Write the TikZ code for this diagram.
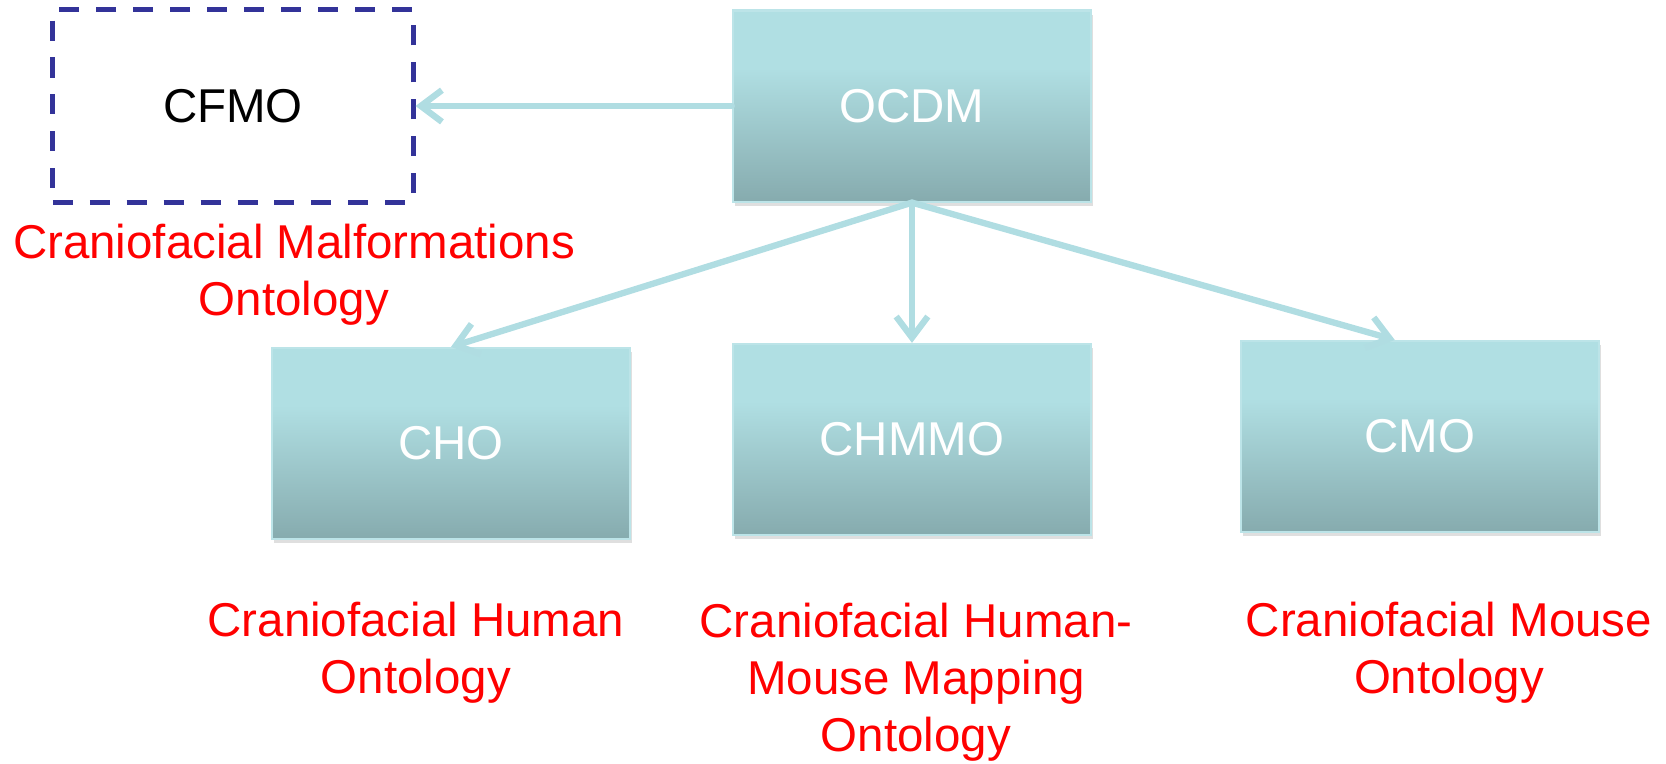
\documentclass[tikz,border=0pt]{standalone}
\usepackage{fontspec}
\setmainfont{Liberation Sans}
\usetikzlibrary{arrows.meta, positioning, calc, shadows}
\definecolor{boxtop}{RGB}{176, 223, 227}
\definecolor{boxbottom}{RGB}{134, 171, 174}
\definecolor{boxedge}{RGB}{188, 228, 232}
\definecolor{linkcolor}{RGB}{176, 221, 226}
\definecolor{dashblue}{RGB}{51, 51, 153}
\definecolor{labelred}{RGB}{255, 0, 0}
\pgfdeclareverticalshading{ontoshade}{100bp}{color(0bp)=(boxbottom); color(25bp)=(boxbottom); color(60bp)=(boxtop); color(100bp)=(boxtop)}

\begin{document}
\begin{tikzpicture}[x=0.01cm, y=-0.01cm,
  every node/.style={font=\fontsize{13.5}{16.2}\selectfont},
  ontobox/.style={rectangle, shading=ontoshade, draw=boxedge, line width=0.6pt, minimum width=3.58cm, minimum height=1.91cm, text=white, drop shadow={shadow xshift=0.5pt, shadow yshift=-1.2pt, opacity=0.25}},
  ontolabel/.style={text=labelred, align=center, inner sep=0pt},
  link/.style={draw=linkcolor, line width=1.8pt, line cap=round, -{Straight Barb[length=6pt, width=9pt]}}]
\useasboundingbox (0,0) rectangle (1666,763);

% ontology boxes
\node[ontobox] (ocdm) at (912,106) {OCDM};
\node[draw=dashblue, line width=1.4pt, dash pattern=on 5.7pt off 4.8pt, minimum width=3.6cm, minimum height=1.92cm] (cfmo) at (233,106) {CFMO};
\node[ontobox] (cho) at (451,443.5) {CHO};
\node[ontobox] (chmmo) at (912,439.5) {CHMMO};
\node[ontobox] (cmo) at (1420,436.5) {CMO};

% full names
\node[ontolabel] (cfmolabel) at (294,275) {Craniofacial Malformations\\Ontology};
\node[ontolabel] (cholabel) at (416,653) {Craniofacial Human\\Ontology};
\node[ontolabel] (chmmolabel) at (916,682) {Craniofacial Human-\\Mouse Mapping\\Ontology};
\node[ontolabel] (cmolabel) at (1449,653) {Craniofacial Mouse\\Ontology};

\draw[link] (ocdm.west) -- (cfmo.east);
\draw[link] (ocdm.south) -- (cho.north);
\draw[link] (ocdm.south) -- (chmmo.north);
\draw[link] (ocdm.south) -- ($(cmo.north west)!0.43!(cmo.north east)$);
\end{tikzpicture}
\end{document}
